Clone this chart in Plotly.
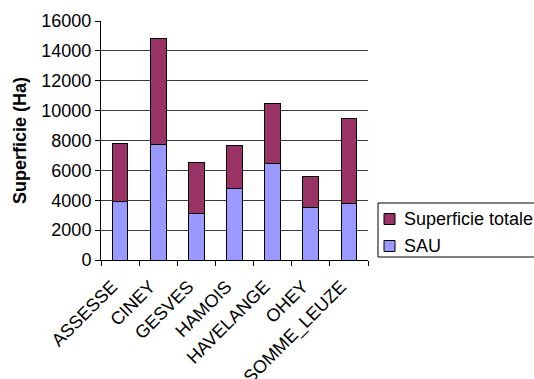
import plotly.graph_objects as go

communes = ["ASSESSE", "CINEY", "GESVES", "HAMOIS", "HAVELANGE", "OHEY", "SOMME_LEUZE"]
sau = [3950, 7720, 3120, 4800, 6430, 3530, 3770]
superficie_totale = [3840, 7080, 3390, 2850, 4030, 2070, 5710]
y_ticks = [0, 2000, 4000, 6000, 8000, 10000, 12000, 14000, 16000]

FONT = "Liberation Sans, Arial, sans-serif"
SAU_COLOR = "#9999FF"
TOT_COLOR = "#993366"

# plot area in pixels (for placing the hand-drawn legend box)
L, R, T, B = 101, 368, 21, 260


def px_x(p):
    return (p - L) / (R - L)


def px_y(p):
    return (B - p) / (B - T)


fig = go.Figure()
fig.add_trace(go.Bar(
    x=communes, y=sau, name="SAU",
    marker=dict(color=SAU_COLOR, line=dict(color="#000000", width=1)),
))
fig.add_trace(go.Bar(
    x=communes, y=superficie_totale, name="Superficie totale",
    marker=dict(color=TOT_COLOR, line=dict(color="#000000", width=1)),
))

# legend: framed box with two square swatches
shapes = [
    dict(type="rect", xref="paper", yref="paper",
         x0=px_x(378), x1=px_x(545), y0=px_y(257), y1=px_y(203),
         line=dict(color="black", width=1), fillcolor="white"),
]
annotations = []
entries = [("Superficie totale", TOT_COLOR, 219), ("SAU", SAU_COLOR, 246)]
for label, color, cy in entries:
    shapes.append(dict(type="rect", xref="paper", yref="paper",
                       x0=px_x(384), x1=px_x(395), y0=px_y(cy + 5.5), y1=px_y(cy - 5.5),
                       line=dict(color="black", width=1), fillcolor=color))
    annotations.append(dict(text=label, xref="paper", yref="paper",
                            x=px_x(402), y=px_y(cy), xanchor="left", yanchor="middle",
                            showarrow=False, font=dict(size=18, family=FONT, color="black")))

fig.update_layout(
    barmode="stack",
    bargap=0.59,
    width=534, height=379,
    margin=dict(l=L, r=534 - R, t=T, b=379 - B, autoexpand=False),
    paper_bgcolor="white", plot_bgcolor="white",
    font=dict(family=FONT, size=18, color="black"),
    showlegend=False,
    shapes=shapes,
    annotations=annotations,
)
fig.update_xaxes(
    automargin=False,
    tickangle=-45,
    showline=True, linecolor="black", linewidth=1,
    ticks="outside", ticklen=5, tickcolor="black",
    tickson="boundaries",
    ticklabelstandoff=8,
    ticklabelshift=-8,
    tickfont=dict(size=18),
)
fig.update_yaxes(
    automargin=False,
    range=[0, 16000],
    tickvals=y_ticks,
    tickformat="d",
    showline=True, linecolor="black", linewidth=1,
    ticks="outside", ticklen=5, tickcolor="black",
    tickfont=dict(size=18),
    showgrid=True, gridcolor="#3a3a3a", gridwidth=1,
    zeroline=False,
    title=dict(text="<b>Superficie (Ha)</b>", font=dict(size=18), standoff=10),
)

fig.write_html("out.html")
